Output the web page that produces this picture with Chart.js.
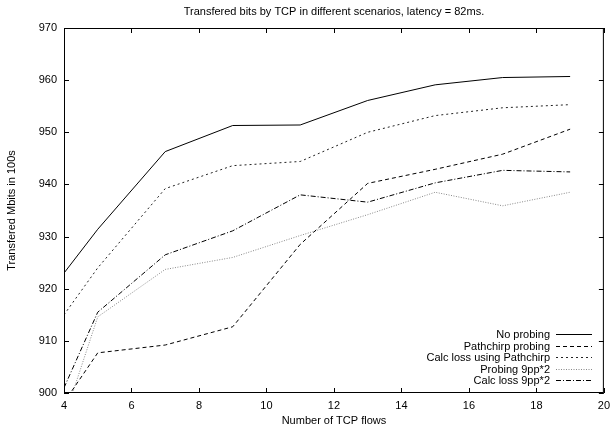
<!DOCTYPE html>
<html>
<head>
<meta charset="utf-8">
<script src="https://cdn.jsdelivr.net/npm/chart.js@4.4.1/dist/chart.umd.min.js"></script>
<style>
  html, body { margin: 0; padding: 0; background: #fff; }
  #wrap { width: 616px; height: 430px; }
</style>
</head>
<body>
<div id="wrap"><canvas id="grafica"></canvas></div>
<script>
const flujos = [4, 5, 7, 9, 11, 13, 15, 17, 19];
const sinSondeo = [923.0, 931.4, 946.3, 951.3, 951.4, 956.1, 959.1, 960.5, 960.7];
const pathchirp = [898.2, 907.7, 909.2, 912.7, 928.5, 940.2, 942.9, 945.8, 950.6];
const calcPathchirp = [915.0, 924.0, 939.2, 943.6, 944.4, 950.0, 953.2, 954.7, 955.3];
const sondeo9pp = [895.0, 914.6, 923.7, 926.0, 930.2, 934.2, 938.5, 935.9, 938.5];
const calc9pp = [901.0, 915.5, 926.5, 931.1, 938.0, 936.6, 940.3, 942.7, 942.4];

const FUENTE = '"Liberation Sans", Arial, sans-serif';

function serie(label, valores, color, dash) {
    return {
        label,
        data: flujos.map((x, i) => ({ x, y: valores[i] })),
        borderColor: color,
        borderWidth: 1,
        borderDash: dash,
        pointRadius: 0,
        fill: false,
        tension: 0
    };
}

// marco con marcas hacia dentro, estilo gnuplot
const marcoPlugin = {
    id: 'marco',
    afterDatasetsDraw(chart) {
        const { ctx, chartArea: a, scales } = chart;
        ctx.save();
        ctx.strokeStyle = '#000';
        ctx.lineWidth = 1;
        ctx.setLineDash([]);
        ctx.strokeRect(a.left + 0.5, a.top + 0.5, a.right - a.left - 1, a.bottom - a.top - 1);
        ctx.beginPath();
        scales.x.ticks.forEach(t => {
            const px = Math.round(scales.x.getPixelForValue(t.value)) + 0.5;
            ctx.moveTo(px, a.bottom); ctx.lineTo(px, a.bottom - 5);
            ctx.moveTo(px, a.top); ctx.lineTo(px, a.top + 5);
        });
        scales.y.ticks.forEach(t => {
            const py = Math.round(scales.y.getPixelForValue(t.value)) + 0.5;
            ctx.moveTo(a.left, py); ctx.lineTo(a.left + 5, py);
            ctx.moveTo(a.right, py); ctx.lineTo(a.right - 5, py);
        });
        ctx.stroke();
        ctx.restore();
    }
};

// leyenda dentro del área, texto alineado a la derecha y muestra de línea
const leyendaPlugin = {
    id: 'leyendaGnuplot',
    afterDraw(chart) {
        const { ctx } = chart;
        ctx.save();
        ctx.font = '11px ' + FUENTE;
        ctx.textAlign = 'right';
        ctx.textBaseline = 'middle';
        chart.data.datasets.forEach((ds, i) => {
            const y = Math.round(334 + i * 11.5) + 0.5;
            ctx.fillStyle = '#000';
            ctx.fillText(ds.label, 550, y);
            ctx.strokeStyle = ds.borderColor;
            ctx.lineWidth = 1;
            ctx.setLineDash(ds.borderDash || []);
            ctx.beginPath();
            ctx.moveTo(556, y); ctx.lineTo(592, y);
            ctx.stroke();
        });
        ctx.restore();
    }
};

new Chart(document.getElementById('grafica'), {
    type: 'line',
    data: {
        datasets: [
            serie('No probing', sinSondeo, '#000', []),
            serie('Pathchirp probing', pathchirp, '#000', [4, 3]),
            serie('Calc loss using Pathchirp', calcPathchirp, '#222', [2, 3]),
            serie('Probing 9pp*2', sondeo9pp, '#888', [1, 1.5]),
            serie('Calc loss 9pp*2', calc9pp, '#000', [5, 2, 1, 2])
        ]
    },
    options: {
        responsive: true,
        maintainAspectRatio: false,
        animation: false,
        layout: { padding: { top: 0, right: 7, left: 0, bottom: 0 } },
        plugins: {
            legend: { display: false },
            tooltip: { enabled: false },
            title: {
                display: true,
                fullSize: false,
                text: 'Transfered bits by TCP in different scenarios, latency = 82ms.',
                color: '#000',
                font: { family: FUENTE, size: 11, weight: 'normal' },
                padding: { top: 5.4, bottom: 9.4 }
            }
        },
        scales: {
            x: {
                type: 'linear',
                min: 4,
                max: 20,
                ticks: { stepSize: 2, color: '#000', padding: 6, font: { family: FUENTE, size: 11 }, maxRotation: 0 },
                grid: { display: false, drawTicks: false },
                border: { display: false },
                title: {
                    display: true,
                    text: 'Number of TCP flows',
                    color: '#000',
                    font: { family: FUENTE, size: 11 },
                    padding: { top: 0, bottom: 2 }
                },
                afterFit(s) { s.height = 37; }
            },
            y: {
                min: 900,
                max: 970,
                ticks: { stepSize: 10, color: '#000', padding: 7, font: { family: FUENTE, size: 11 } },
                grid: { display: false, drawTicks: false },
                border: { display: false },
                title: {
                    display: true,
                    text: 'Transfered Mbits in 100s',
                    color: '#000',
                    font: { family: FUENTE, size: 11 },
                    padding: { top: 5.4, bottom: 0 }
                },
                afterFit(s) { s.width = 64; }
            }
        }
    },
    plugins: [marcoPlugin, leyendaPlugin]
});
</script>
</body>
</html>
